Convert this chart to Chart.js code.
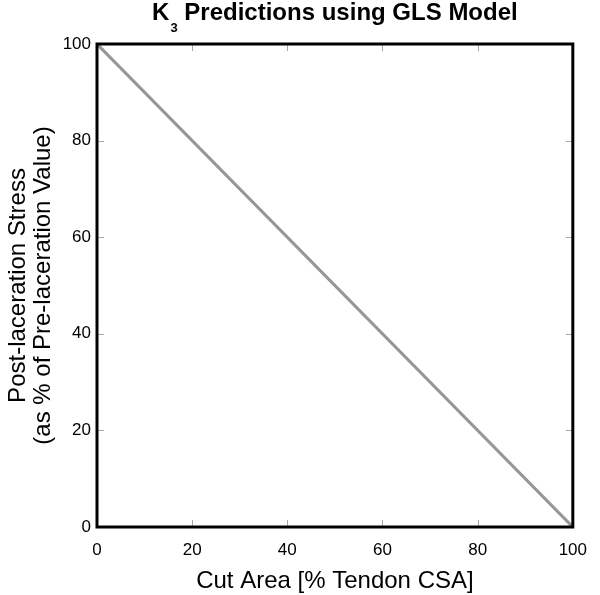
<!DOCTYPE html>
<html>
<head>
<meta charset="utf-8">
<script src="https://cdn.jsdelivr.net/npm/chart.js@4/dist/chart.umd.min.js"></script>
<style>
  html, body { margin: 0; padding: 0; background: #fff; }
  #wrap { width: 600px; height: 595px; }
</style>
</head>
<body>
<div id="wrap"><canvas id="c" width="600" height="595"></canvas></div>
<script>
// ---- data ----
const cutArea = [0, 100];          // x: Cut Area [% Tendon CSA]
const stress  = [100, 0];          // y: Post-laceration stress (% of pre)
const xTicks  = [0, 20, 40, 60, 80, 100];
const yTicks  = [0, 20, 40, 60, 80, 100];
const titleMain = 'K';
const titleSub = '3';
const titleRest = ' Predictions using GLS Model';
const xLabel = 'Cut Area [% Tendon CSA]';
const yLabel = ['Post-laceration Stress', '(as % of Pre-laceration Value)'];

const FONT = '"Liberation Sans", Arial, Helvetica, sans-serif';

const framePlugin = {
  id: 'frame',
  afterDatasetsDraw(chart) {
    const {ctx, chartArea: a, scales: {x, y}} = chart;
    ctx.save();
    // inner tick marks on all four sides
    ctx.strokeStyle = '#a8a8a8';
    ctx.lineWidth = 1;
    const tl = 7;
    ctx.beginPath();
    xTicks.forEach(v => {
      const px = Math.round(x.getPixelForValue(v)) + 0.5;
      ctx.moveTo(px, a.bottom); ctx.lineTo(px, a.bottom - tl);
      ctx.moveTo(px, a.top); ctx.lineTo(px, a.top + tl);
    });
    yTicks.forEach(v => {
      const py = Math.round(y.getPixelForValue(v)) + 0.5;
      ctx.moveTo(a.left, py); ctx.lineTo(a.left + tl, py);
      ctx.moveTo(a.right, py); ctx.lineTo(a.right - tl, py);
    });
    ctx.stroke();
    // black frame
    ctx.strokeStyle = '#000';
    ctx.lineWidth = 3;
    ctx.strokeRect(a.left, a.top, a.right - a.left, a.bottom - a.top);
    ctx.restore();
  },
  afterDraw(chart) {
    const {ctx, chartArea: a} = chart;
    ctx.save();
    ctx.fillStyle = '#000';
    ctx.textBaseline = 'alphabetic';
    const big = 'bold 24px ' + FONT;
    const small = 'bold 13px ' + FONT;
    ctx.font = big;
    const wMain = ctx.measureText(titleMain).width;
    const wRest = ctx.measureText(titleRest).width;
    ctx.font = small;
    const wSub = ctx.measureText(titleSub).width + 1;
    const total = wMain + wSub + wRest;
    let x0 = (a.left + a.right) / 2 - total / 2;
    const base = 20;
    ctx.font = big;
    ctx.fillText(titleMain, x0, base);
    ctx.font = small;
    ctx.fillText(titleSub, x0 + wMain + 1, base + 12);
    ctx.font = big;
    ctx.fillText(titleRest, x0 + wMain + wSub, base);
    ctx.restore();
  }
};

new Chart(document.getElementById('c'), {
  type: 'scatter',
  data: {
    datasets: [{
      data: cutArea.map((v, i) => ({x: v, y: stress[i]})),
      showLine: true,
      borderColor: '#969696',
      borderWidth: 3,
      pointRadius: 0,
      fill: false
    }]
  },
  options: {
    responsive: false,
    animation: false,
    events: [],
    layout: { padding: { top: 44, right: 16, bottom: 0, left: 0 } },
    plugins: { legend: { display: false }, tooltip: { enabled: false }, title: { display: false } },
    scales: {
      x: {
        type: 'linear', min: 0, max: 100,
        afterBuildTicks: s => { s.ticks = xTicks.map(v => ({value: v})); },
        afterFit: s => { s.height = 68; },
        grid: { display: false, drawTicks: false },
        border: { display: false },
        ticks: { color: '#000', padding: 13, font: { family: FONT, size: 17 }, maxRotation: 0 },
        title: { display: true, text: xLabel, color: '#000', font: { family: FONT, size: 24, lineHeight: 1.05 }, padding: { top: 0, bottom: 1 } }
      },
      y: {
        type: 'linear', min: 0, max: 100,
        afterBuildTicks: s => { s.ticks = yTicks.map(v => ({value: v})); },
        afterFit: s => { s.width = 97; },
        grid: { display: false, drawTicks: false },
        border: { display: false },
        ticks: { color: '#000', padding: 6, font: { family: FONT, size: 17 } },
        title: { display: true, text: yLabel, color: '#000', font: { family: FONT, size: 24, lineHeight: 1.05 }, padding: { top: 6, bottom: 0 } }
      }
    }
  },
  plugins: [framePlugin]
});
</script>
</body>
</html>
